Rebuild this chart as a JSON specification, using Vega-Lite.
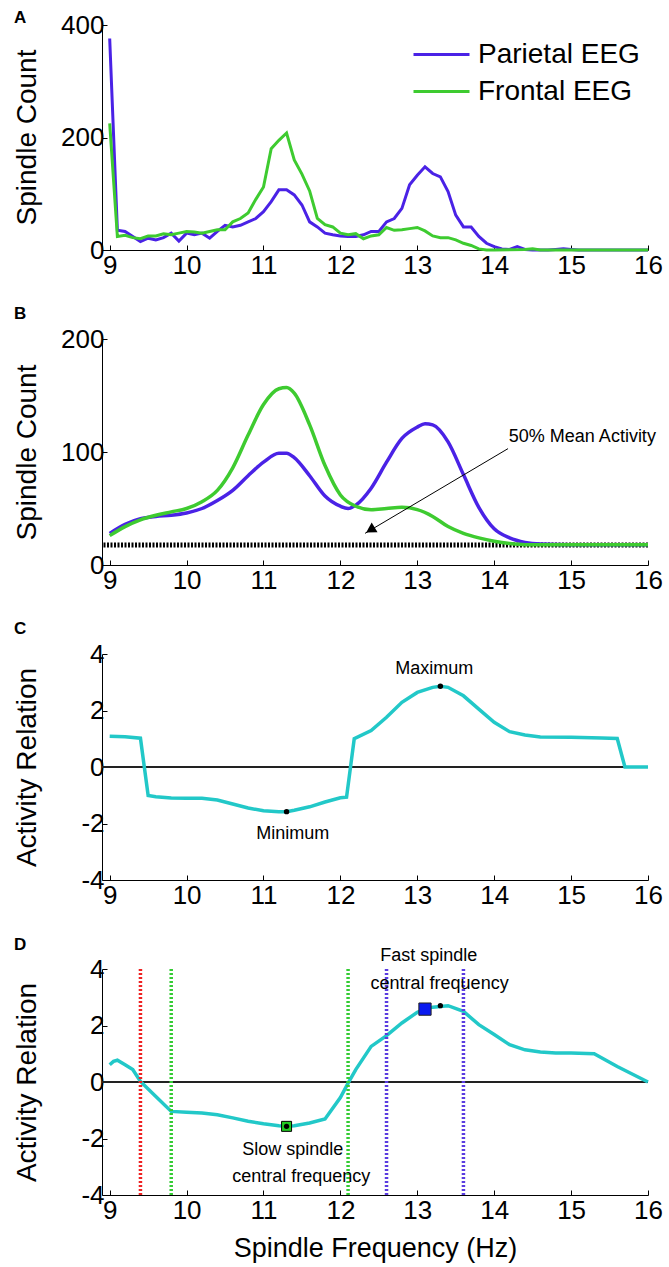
{
  "$schema": "https://vega.github.io/schema/vega-lite/v6.json",
  "autosize": {"type": "pad"},
  "padding": {"left": 12, "top": 9, "right": 5, "bottom": 5},
  "background": "white",
  "bounds": "flush",
  "spacing": 89,
  "config": {
    "view": {"stroke": null},
    "font": "Liberation Sans",
    "axis": {"grid": false, "domainColor": "#000", "tickColor": "#000", "labelColor": "#000", "titleColor": "#000", "labelFont": "Liberation Sans", "titleFont": "Liberation Sans", "labelFontSize": 26, "titleFontSize": 28, "titleFontWeight": "normal", "tickSize": -5, "domainWidth": 1, "tickWidth": 1, "labelFlush": false},
    "axisY": {"labelPadding": 3, "titleX": -75, "titleAlign": "center", "titleBaseline": "middle"},
    "axisX": {"labelPadding": 7, "format": "d"},
    "title": {"font": "Liberation Sans", "fontSize": 17, "fontWeight": "bold", "anchor": "start", "frame": "group", "dx": -88, "baseline": "alphabetic", "color": "#000"},
    "text": {"font": "Liberation Sans", "fontSize": 18, "color": "#000"}
  },
  "datasets": {
    "countsA": [
      {"f": 9.0, "count": 376, "series": "Parietal EEG"}, {"f": 9.1, "count": 35, "series": "Parietal EEG"}, {"f": 9.2, "count": 33, "series": "Parietal EEG"}, {"f": 9.3, "count": 24, "series": "Parietal EEG"}, {"f": 9.4, "count": 15, "series": "Parietal EEG"}, {"f": 9.5, "count": 21, "series": "Parietal EEG"}, {"f": 9.6, "count": 18, "series": "Parietal EEG"}, {"f": 9.7, "count": 22, "series": "Parietal EEG"}, {"f": 9.8, "count": 30, "series": "Parietal EEG"}, {"f": 9.9, "count": 16, "series": "Parietal EEG"},
      {"f": 10.0, "count": 30, "series": "Parietal EEG"}, {"f": 10.1, "count": 27, "series": "Parietal EEG"}, {"f": 10.2, "count": 30, "series": "Parietal EEG"}, {"f": 10.3, "count": 21, "series": "Parietal EEG"}, {"f": 10.4, "count": 33, "series": "Parietal EEG"}, {"f": 10.5, "count": 44, "series": "Parietal EEG"}, {"f": 10.6, "count": 41, "series": "Parietal EEG"}, {"f": 10.7, "count": 44, "series": "Parietal EEG"}, {"f": 10.8, "count": 50, "series": "Parietal EEG"}, {"f": 10.9, "count": 56, "series": "Parietal EEG"},
      {"f": 11.0, "count": 68, "series": "Parietal EEG"}, {"f": 11.1, "count": 86, "series": "Parietal EEG"}, {"f": 11.2, "count": 107, "series": "Parietal EEG"}, {"f": 11.3, "count": 107, "series": "Parietal EEG"}, {"f": 11.4, "count": 98, "series": "Parietal EEG"}, {"f": 11.5, "count": 80, "series": "Parietal EEG"}, {"f": 11.6, "count": 50, "series": "Parietal EEG"}, {"f": 11.7, "count": 41, "series": "Parietal EEG"}, {"f": 11.8, "count": 30, "series": "Parietal EEG"}, {"f": 11.9, "count": 27, "series": "Parietal EEG"},
      {"f": 12.0, "count": 25, "series": "Parietal EEG"}, {"f": 12.1, "count": 24, "series": "Parietal EEG"}, {"f": 12.2, "count": 24, "series": "Parietal EEG"}, {"f": 12.3, "count": 27, "series": "Parietal EEG"}, {"f": 12.4, "count": 33, "series": "Parietal EEG"}, {"f": 12.5, "count": 33, "series": "Parietal EEG"}, {"f": 12.6, "count": 50, "series": "Parietal EEG"}, {"f": 12.7, "count": 56, "series": "Parietal EEG"}, {"f": 12.8, "count": 74, "series": "Parietal EEG"}, {"f": 12.9, "count": 116, "series": "Parietal EEG"},
      {"f": 13.0, "count": 133, "series": "Parietal EEG"}, {"f": 13.1, "count": 148, "series": "Parietal EEG"}, {"f": 13.2, "count": 136, "series": "Parietal EEG"}, {"f": 13.3, "count": 130, "series": "Parietal EEG"}, {"f": 13.4, "count": 104, "series": "Parietal EEG"}, {"f": 13.5, "count": 62, "series": "Parietal EEG"}, {"f": 13.6, "count": 41, "series": "Parietal EEG"}, {"f": 13.7, "count": 41, "series": "Parietal EEG"}, {"f": 13.8, "count": 24, "series": "Parietal EEG"}, {"f": 13.9, "count": 12, "series": "Parietal EEG"},
      {"f": 14.0, "count": 6, "series": "Parietal EEG"}, {"f": 14.1, "count": 2, "series": "Parietal EEG"}, {"f": 14.2, "count": 1, "series": "Parietal EEG"}, {"f": 14.3, "count": 6, "series": "Parietal EEG"}, {"f": 14.4, "count": 1, "series": "Parietal EEG"}, {"f": 14.5, "count": 0, "series": "Parietal EEG"}, {"f": 14.7, "count": 0, "series": "Parietal EEG"}, {"f": 14.8, "count": 1, "series": "Parietal EEG"}, {"f": 14.9, "count": 2, "series": "Parietal EEG"}, {"f": 15.0, "count": 1, "series": "Parietal EEG"}, {"f": 15.1, "count": 0, "series": "Parietal EEG"}, {"f": 15.5, "count": 0, "series": "Parietal EEG"}, {"f": 16.0, "count": 0, "series": "Parietal EEG"},
      {"f": 9.0, "count": 225, "series": "Frontal EEG"}, {"f": 9.1, "count": 24, "series": "Frontal EEG"}, {"f": 9.2, "count": 26, "series": "Frontal EEG"}, {"f": 9.3, "count": 22, "series": "Frontal EEG"}, {"f": 9.4, "count": 20, "series": "Frontal EEG"}, {"f": 9.5, "count": 25, "series": "Frontal EEG"}, {"f": 9.6, "count": 25, "series": "Frontal EEG"}, {"f": 9.7, "count": 29, "series": "Frontal EEG"}, {"f": 9.8, "count": 27, "series": "Frontal EEG"}, {"f": 9.9, "count": 30, "series": "Frontal EEG"},
      {"f": 10.0, "count": 33, "series": "Frontal EEG"}, {"f": 10.1, "count": 32, "series": "Frontal EEG"}, {"f": 10.2, "count": 30, "series": "Frontal EEG"}, {"f": 10.3, "count": 33, "series": "Frontal EEG"}, {"f": 10.4, "count": 36, "series": "Frontal EEG"}, {"f": 10.5, "count": 36, "series": "Frontal EEG"}, {"f": 10.6, "count": 50, "series": "Frontal EEG"}, {"f": 10.7, "count": 56, "series": "Frontal EEG"}, {"f": 10.8, "count": 66, "series": "Frontal EEG"}, {"f": 10.9, "count": 90, "series": "Frontal EEG"},
      {"f": 11.0, "count": 112, "series": "Frontal EEG"}, {"f": 11.1, "count": 180, "series": "Frontal EEG"}, {"f": 11.2, "count": 195, "series": "Frontal EEG"}, {"f": 11.3, "count": 208, "series": "Frontal EEG"}, {"f": 11.4, "count": 160, "series": "Frontal EEG"}, {"f": 11.5, "count": 135, "series": "Frontal EEG"}, {"f": 11.6, "count": 105, "series": "Frontal EEG"}, {"f": 11.7, "count": 56, "series": "Frontal EEG"}, {"f": 11.8, "count": 45, "series": "Frontal EEG"}, {"f": 11.9, "count": 41, "series": "Frontal EEG"},
      {"f": 12.0, "count": 30, "series": "Frontal EEG"}, {"f": 12.1, "count": 27, "series": "Frontal EEG"}, {"f": 12.2, "count": 29, "series": "Frontal EEG"}, {"f": 12.3, "count": 20, "series": "Frontal EEG"}, {"f": 12.4, "count": 25, "series": "Frontal EEG"}, {"f": 12.5, "count": 27, "series": "Frontal EEG"}, {"f": 12.6, "count": 40, "series": "Frontal EEG"}, {"f": 12.7, "count": 35, "series": "Frontal EEG"}, {"f": 12.8, "count": 36, "series": "Frontal EEG"}, {"f": 12.9, "count": 38, "series": "Frontal EEG"},
      {"f": 13.0, "count": 40, "series": "Frontal EEG"}, {"f": 13.1, "count": 34, "series": "Frontal EEG"}, {"f": 13.2, "count": 25, "series": "Frontal EEG"}, {"f": 13.3, "count": 22, "series": "Frontal EEG"}, {"f": 13.4, "count": 22, "series": "Frontal EEG"}, {"f": 13.5, "count": 18, "series": "Frontal EEG"}, {"f": 13.6, "count": 12, "series": "Frontal EEG"}, {"f": 13.7, "count": 8, "series": "Frontal EEG"}, {"f": 13.8, "count": 2, "series": "Frontal EEG"}, {"f": 13.9, "count": 0, "series": "Frontal EEG"},
      {"f": 14.0, "count": 0, "series": "Frontal EEG"}, {"f": 14.4, "count": 1, "series": "Frontal EEG"}, {"f": 14.5, "count": 2, "series": "Frontal EEG"}, {"f": 14.6, "count": 0, "series": "Frontal EEG"}, {"f": 15.0, "count": 0, "series": "Frontal EEG"}, {"f": 16.0, "count": 0, "series": "Frontal EEG"}
    ],
    "countsB": [
      {"f": 9.0, "count": 28, "series": "Parietal EEG"}, {"f": 9.2, "count": 36, "series": "Parietal EEG"}, {"f": 9.4, "count": 41, "series": "Parietal EEG"}, {"f": 9.6, "count": 43, "series": "Parietal EEG"}, {"f": 9.8, "count": 44, "series": "Parietal EEG"}, {"f": 10.0, "count": 46, "series": "Parietal EEG"}, {"f": 10.2, "count": 50, "series": "Parietal EEG"}, {"f": 10.4, "count": 57, "series": "Parietal EEG"}, {"f": 10.6, "count": 66, "series": "Parietal EEG"}, {"f": 10.8, "count": 79, "series": "Parietal EEG"}, {"f": 11.0, "count": 91, "series": "Parietal EEG"}, {"f": 11.2, "count": 99, "series": "Parietal EEG"}, {"f": 11.3, "count": 99, "series": "Parietal EEG"}, {"f": 11.4, "count": 95, "series": "Parietal EEG"}, {"f": 11.6, "count": 79, "series": "Parietal EEG"}, {"f": 11.8, "count": 61, "series": "Parietal EEG"}, {"f": 12.0, "count": 52, "series": "Parietal EEG"}, {"f": 12.1, "count": 50, "series": "Parietal EEG"}, {"f": 12.2, "count": 53, "series": "Parietal EEG"}, {"f": 12.4, "count": 68, "series": "Parietal EEG"}, {"f": 12.6, "count": 91, "series": "Parietal EEG"}, {"f": 12.8, "count": 112, "series": "Parietal EEG"}, {"f": 13.0, "count": 122, "series": "Parietal EEG"}, {"f": 13.1, "count": 125, "series": "Parietal EEG"}, {"f": 13.2, "count": 124, "series": "Parietal EEG"}, {"f": 13.4, "count": 109, "series": "Parietal EEG"}, {"f": 13.6, "count": 80, "series": "Parietal EEG"}, {"f": 13.8, "count": 51, "series": "Parietal EEG"}, {"f": 14.0, "count": 32, "series": "Parietal EEG"}, {"f": 14.2, "count": 24, "series": "Parietal EEG"}, {"f": 14.4, "count": 20, "series": "Parietal EEG"}, {"f": 14.6, "count": 18.5, "series": "Parietal EEG"}, {"f": 15.0, "count": 18, "series": "Parietal EEG"}, {"f": 16.0, "count": 18, "series": "Parietal EEG"},
      {"f": 9.0, "count": 26, "series": "Frontal EEG"}, {"f": 9.2, "count": 34, "series": "Frontal EEG"}, {"f": 9.4, "count": 40, "series": "Frontal EEG"}, {"f": 9.6, "count": 44, "series": "Frontal EEG"}, {"f": 9.8, "count": 47, "series": "Frontal EEG"}, {"f": 10.0, "count": 50, "series": "Frontal EEG"}, {"f": 10.2, "count": 56, "series": "Frontal EEG"}, {"f": 10.4, "count": 66, "series": "Frontal EEG"}, {"f": 10.6, "count": 86, "series": "Frontal EEG"}, {"f": 10.8, "count": 115, "series": "Frontal EEG"}, {"f": 11.0, "count": 142, "series": "Frontal EEG"}, {"f": 11.2, "count": 156, "series": "Frontal EEG"}, {"f": 11.3, "count": 157, "series": "Frontal EEG"}, {"f": 11.4, "count": 152, "series": "Frontal EEG"}, {"f": 11.6, "count": 124, "series": "Frontal EEG"}, {"f": 11.8, "count": 88, "series": "Frontal EEG"}, {"f": 12.0, "count": 62, "series": "Frontal EEG"}, {"f": 12.2, "count": 52, "series": "Frontal EEG"}, {"f": 12.4, "count": 49, "series": "Frontal EEG"}, {"f": 12.6, "count": 50, "series": "Frontal EEG"}, {"f": 12.8, "count": 51, "series": "Frontal EEG"}, {"f": 13.0, "count": 49, "series": "Frontal EEG"}, {"f": 13.2, "count": 43, "series": "Frontal EEG"}, {"f": 13.4, "count": 34, "series": "Frontal EEG"}, {"f": 13.6, "count": 28, "series": "Frontal EEG"}, {"f": 13.8, "count": 24, "series": "Frontal EEG"}, {"f": 14.0, "count": 21, "series": "Frontal EEG"}, {"f": 14.2, "count": 19, "series": "Frontal EEG"}, {"f": 14.4, "count": 18, "series": "Frontal EEG"}, {"f": 15.0, "count": 18, "series": "Frontal EEG"}, {"f": 16.0, "count": 18, "series": "Frontal EEG"}
    ],
    "relC": [
      {"f": 9.0, "r": 1.09}, {"f": 9.2, "r": 1.07}, {"f": 9.4, "r": 1.02}, {"f": 9.5, "r": -1.01}, {"f": 9.6, "r": -1.05}, {"f": 9.8, "r": -1.1}, {"f": 10.0, "r": -1.11}, {"f": 10.2, "r": -1.11}, {"f": 10.4, "r": -1.17}, {"f": 10.6, "r": -1.31}, {"f": 10.8, "r": -1.45}, {"f": 11.0, "r": -1.55}, {"f": 11.2, "r": -1.58}, {"f": 11.3, "r": -1.58}, {"f": 11.4, "r": -1.53}, {"f": 11.6, "r": -1.41}, {"f": 11.8, "r": -1.24}, {"f": 12.0, "r": -1.09}, {"f": 12.08, "r": -1.07}, {"f": 12.18, "r": 1.0}, {"f": 12.4, "r": 1.29}, {"f": 12.6, "r": 1.76}, {"f": 12.8, "r": 2.29}, {"f": 13.0, "r": 2.64}, {"f": 13.2, "r": 2.82}, {"f": 13.3, "r": 2.86}, {"f": 13.4, "r": 2.82}, {"f": 13.6, "r": 2.52}, {"f": 13.8, "r": 2.05}, {"f": 14.0, "r": 1.58}, {"f": 14.2, "r": 1.25}, {"f": 14.4, "r": 1.13}, {"f": 14.6, "r": 1.06}, {"f": 15.0, "r": 1.05}, {"f": 15.4, "r": 1.03}, {"f": 15.6, "r": 1.01}, {"f": 15.7, "r": 0}, {"f": 16.0, "r": 0}
    ],
    "relD": [
      {"f": 9.0, "r": 0.61}, {"f": 9.05, "r": 0.73}, {"f": 9.1, "r": 0.77}, {"f": 9.2, "r": 0.61}, {"f": 9.3, "r": 0.44}, {"f": 9.4, "r": 0.02}, {"f": 9.6, "r": -0.51}, {"f": 9.8, "r": -1.04}, {"f": 10.0, "r": -1.07}, {"f": 10.2, "r": -1.1}, {"f": 10.4, "r": -1.16}, {"f": 10.6, "r": -1.27}, {"f": 10.8, "r": -1.39}, {"f": 11.0, "r": -1.48}, {"f": 11.2, "r": -1.55}, {"f": 11.3, "r": -1.57}, {"f": 11.4, "r": -1.55}, {"f": 11.6, "r": -1.45}, {"f": 11.8, "r": -1.31}, {"f": 12.0, "r": -0.55}, {"f": 12.1, "r": -0.04}, {"f": 12.2, "r": 0.44}, {"f": 12.4, "r": 1.26}, {"f": 12.6, "r": 1.64}, {"f": 12.8, "r": 2.09}, {"f": 13.0, "r": 2.47}, {"f": 13.1, "r": 2.58}, {"f": 13.2, "r": 2.65}, {"f": 13.4, "r": 2.7}, {"f": 13.6, "r": 2.5}, {"f": 13.8, "r": 2.03}, {"f": 14.0, "r": 1.68}, {"f": 14.2, "r": 1.32}, {"f": 14.4, "r": 1.14}, {"f": 14.6, "r": 1.06}, {"f": 14.8, "r": 1.03}, {"f": 15.0, "r": 1.03}, {"f": 15.3, "r": 1.0}, {"f": 15.6, "r": 0.55}, {"f": 16.0, "r": 0}
    ],
    "bounds": [
      {"f": 9.4, "kind": "transition"}, {"f": 9.8, "kind": "slow"}, {"f": 12.1, "kind": "slow"}, {"f": 12.6, "kind": "fast"}, {"f": 13.6, "kind": "fast"}
    ]
  },
  "vconcat": [
    {
      "width": 546, "height": 225,
      "title": {"text": "A", "offset": -15},
      "data": {"name": "countsA"},
      "mark": {"type": "line", "strokeWidth": 3},
      "encoding": {
        "x": {"field": "f", "type": "quantitative", "scale": {"domain": [8.9, 16], "nice": false, "zero": false}, "axis": {"values": [9, 10, 11, 12, 13, 14, 15, 16], "title": null}},
        "y": {"field": "count", "type": "quantitative", "scale": {"domain": [0, 400], "nice": false}, "axis": {"values": [0, 200, 400], "title": "Spindle Count", "titleY": 112}},
        "color": {"field": "series", "type": "nominal", "sort": ["Parietal EEG", "Frontal EEG"], "scale": {"domain": ["Parietal EEG", "Frontal EEG"], "range": ["#4a22e6", "#3ecb30"]},
          "legend": {"orient": "none", "legendX": 324, "legendY": 14, "title": null, "symbolType": "M-2,0H2", "symbolSize": 784, "symbolStrokeWidth": 3, "labelFontSize": 28, "labelFont": "Liberation Sans", "labelColor": "#000", "labelOffset": 21, "labelLimit": 400, "rowPadding": 7}}
      }
    },
    {
      "width": 546, "height": 226,
      "title": {"text": "B", "offset": 3},
      "layer": [
        {
          "data": {"values": [{"level": 17.7}]},
          "mark": {"type": "rule", "color": "#000", "strokeWidth": 5, "strokeDash": [2, 1.5]},
          "encoding": {"y": {"field": "level", "type": "quantitative"}}
        },
        {
          "data": {"name": "countsB"},
          "mark": {"type": "line", "strokeWidth": 3.5, "interpolate": "monotone"},
          "encoding": {
            "x": {"field": "f", "type": "quantitative", "scale": {"domain": [8.9, 16], "nice": false, "zero": false}, "axis": {"values": [9, 10, 11, 12, 13, 14, 15, 16], "title": null}},
            "y": {"field": "count", "type": "quantitative", "scale": {"domain": [0, 200], "nice": false}, "axis": {"values": [0, 100, 200], "title": "Spindle Count", "titleY": 113}},
            "color": {"field": "series", "type": "nominal", "scale": {"domain": ["Parietal EEG", "Frontal EEG"], "range": ["#4a22e6", "#3ecb30"]}, "legend": null}
          }
        },
        {
          "data": {"values": [{"x1": 14.18, "y1": 103, "x2": 12.32, "y2": 28}]},
          "mark": {"type": "rule", "color": "#000", "strokeWidth": 1},
          "encoding": {"x": {"field": "x1", "type": "quantitative"}, "y": {"field": "y1", "type": "quantitative"}, "x2": {"field": "x2"}, "y2": {"field": "y2"}}
        },
        {
          "data": {"values": [{"x": 12.39, "y": 31}]},
          "mark": {"type": "point", "shape": "triangle-up", "filled": true, "color": "#000", "size": 130, "angle": 239, "opacity": 1},
          "encoding": {"x": {"field": "x", "type": "quantitative"}, "y": {"field": "y", "type": "quantitative"}}
        },
        {
          "data": {"values": [{"x": 14.19, "y": 113, "label": "50% Mean Activity"}]},
          "mark": {"type": "text", "align": "left", "baseline": "middle", "fontSize": 18},
          "encoding": {"x": {"field": "x", "type": "quantitative"}, "y": {"field": "y", "type": "quantitative"}, "text": {"field": "label"}}
        }
      ],
      "resolve": {"scale": {"color": "independent"}}
    },
    {
      "width": 546, "height": 226,
      "title": {"text": "C", "offset": 3},
      "layer": [
        {
          "data": {"values": [{"zero": 0}]},
          "mark": {"type": "rule", "color": "#222", "strokeWidth": 2},
          "encoding": {"y": {"field": "zero", "type": "quantitative"}}
        },
        {
          "data": {"name": "relC"},
          "mark": {"type": "line", "color": "#22c8c8", "strokeWidth": 3.5},
          "encoding": {
            "x": {"field": "f", "type": "quantitative", "scale": {"domain": [8.9, 16], "nice": false, "zero": false}, "axis": {"values": [9, 10, 11, 12, 13, 14, 15, 16], "title": null}},
            "y": {"field": "r", "type": "quantitative", "scale": {"domain": [-4, 4], "nice": false}, "axis": {"values": [-4, -2, 0, 2, 4], "labelExpr": "'' + datum.value", "title": "Activity Relation", "titleY": 113}}
          }
        },
        {
          "data": {"values": [{"f": 13.3, "r": 2.86}, {"f": 11.3, "r": -1.58}]},
          "mark": {"type": "point", "filled": true, "color": "#000", "size": 30, "opacity": 1},
          "encoding": {"x": {"field": "f", "type": "quantitative"}, "y": {"field": "r", "type": "quantitative"}}
        },
        {
          "data": {"values": [{"f": 13.22, "r": 3.47, "label": "Maximum"}, {"f": 11.38, "r": -2.37, "label": "Minimum"}]},
          "mark": {"type": "text", "align": "center", "baseline": "middle", "fontSize": 18},
          "encoding": {"x": {"field": "f", "type": "quantitative"}, "y": {"field": "r", "type": "quantitative"}, "text": {"field": "label"}}
        }
      ]
    },
    {
      "width": 546, "height": 226,
      "title": {"text": "D", "offset": -7},
      "layer": [
        {
          "data": {"values": [{"zero": 0}]},
          "mark": {"type": "rule", "color": "#222", "strokeWidth": 2},
          "encoding": {"y": {"field": "zero", "type": "quantitative"}}
        },
        {
          "data": {"name": "relD"},
          "mark": {"type": "line", "color": "#22c8c8", "strokeWidth": 3.5},
          "encoding": {
            "x": {"field": "f", "type": "quantitative", "scale": {"domain": [8.9, 16], "nice": false, "zero": false}, "axis": {"values": [9, 10, 11, 12, 13, 14, 15, 16], "title": "Spindle Frequency (Hz)", "titleFontSize": 27, "titleBaseline": "middle", "titleY": 53}},
            "y": {"field": "r", "type": "quantitative", "scale": {"domain": [-4, 4], "nice": false}, "axis": {"values": [-4, -2, 0, 2, 4], "labelExpr": "'' + datum.value", "title": "Activity Relation", "titleY": 113}}
          }
        },
        {
          "data": {"name": "bounds"},
          "mark": {"type": "rule", "strokeWidth": 3.5, "strokeDash": [2, 2]},
          "encoding": {
            "x": {"field": "f", "type": "quantitative"},
            "color": {"field": "kind", "type": "nominal", "scale": {"domain": ["transition", "slow", "fast"], "range": ["#ee2222", "#33cc33", "#5a3ce0"]}, "legend": null}
          }
        },
        {
          "data": {"values": [{"f": 11.3, "r": -1.57}]},
          "mark": {"type": "point", "shape": "square", "filled": true, "color": "#22cc22", "stroke": "#000", "strokeWidth": 1, "size": 100, "opacity": 1},
          "encoding": {"x": {"field": "f", "type": "quantitative"}, "y": {"field": "r", "type": "quantitative"}}
        },
        {
          "data": {"values": [{"f": 13.1, "r": 2.58}]},
          "mark": {"type": "point", "shape": "square", "filled": true, "color": "#0a1af0", "stroke": "#222", "strokeWidth": 1, "size": 150, "opacity": 1},
          "encoding": {"x": {"field": "f", "type": "quantitative"}, "y": {"field": "r", "type": "quantitative"}}
        },
        {
          "data": {"values": [{"f": 11.3, "r": -1.57}, {"f": 13.3, "r": 2.7}]},
          "mark": {"type": "point", "filled": true, "color": "#000", "size": 28, "opacity": 1},
          "encoding": {"x": {"field": "f", "type": "quantitative"}, "y": {"field": "r", "type": "quantitative"}}
        },
        {
          "data": {"values": [{"f": 13.15, "r": 4.47, "label": "Fast spindle"}, {"f": 13.29, "r": 3.48, "label": "central frequency"}, {"f": 11.38, "r": -2.4, "label": "Slow spindle"}, {"f": 11.49, "r": -3.36, "label": "central frequency"}]},
          "mark": {"type": "text", "align": "center", "baseline": "middle", "fontSize": 18},
          "encoding": {"x": {"field": "f", "type": "quantitative"}, "y": {"field": "r", "type": "quantitative"}, "text": {"field": "label"}}
        }
      ],
      "resolve": {"scale": {"color": "independent"}}
    }
  ],
  "resolve": {"scale": {"color": "independent", "x": "independent", "y": "independent"}, "legend": {"color": "independent"}}
}
